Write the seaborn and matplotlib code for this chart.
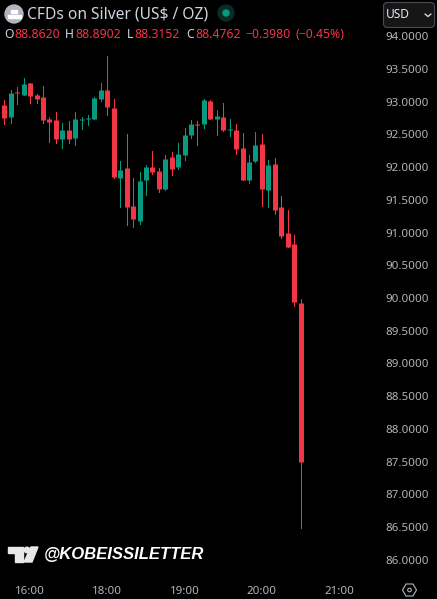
import pandas as pd
import matplotlib
matplotlib.use("Agg")
import matplotlib.pyplot as plt
from matplotlib.patches import Circle, FancyBboxPatch, Polygon, Rectangle
import seaborn as sns

# candles (5 min bars)
opens = [92.947, 92.763, 93.140, 93.099, 93.282, 93.099, 93.069, 92.733, 92.718, 92.427,
         92.565, 92.443, 92.718, 92.733, 92.733, 93.038, 93.176, 92.901, 91.832, 91.985,
         91.405, 91.176, 91.802, 92.000, 91.939, 91.664, 92.153, 92.000, 92.183, 92.489,
         92.656, 92.656, 93.008, 92.733, 92.763, 92.565, 92.565, 92.290, 91.802, 92.092,
         92.351, 91.649, 92.046, 91.389, 90.992, 90.824, 89.924]
closes = [92.748, 93.130, 93.125, 93.267, 93.084, 93.038, 92.718, 92.687, 92.427, 92.565,
          92.427, 92.733, 92.733, 92.748, 93.053, 93.176, 92.916, 91.847, 91.954, 91.389,
          91.206, 91.786, 92.000, 91.924, 91.664, 92.122, 91.969, 92.198, 92.489, 92.656,
          92.641, 93.023, 92.733, 92.779, 92.565, 92.580, 92.275, 91.802, 92.076, 92.336,
          91.664, 92.031, 91.344, 90.947, 90.779, 89.939, 87.496]
highs = [93.023, 93.176, 93.217, 93.354, 93.282, 93.115, 93.237, 92.763, 92.840, 92.672,
         92.702, 92.840, 92.763, 92.794, 93.069, 93.282, 93.695, 93.038, 92.092, 92.504,
         91.832, 91.924, 92.031, 92.244, 91.985, 92.183, 92.229, 92.366, 92.595, 92.718,
         92.702, 93.038, 93.023, 92.870, 92.977, 92.733, 92.656, 92.519, 92.183, 92.534,
         92.504, 92.107, 92.137, 91.557, 91.344, 90.962, 89.985]
lows = [92.656, 92.676, 92.962, 93.099, 92.977, 92.977, 92.672, 92.382, 92.366, 92.290,
        92.366, 92.336, 92.580, 92.641, 92.733, 93.008, 92.794, 91.832, 91.389, 91.115,
        91.084, 91.130, 91.573, 91.893, 91.618, 91.649, 91.878, 91.969, 92.107, 92.443,
        92.336, 92.595, 92.733, 92.489, 92.550, 92.473, 92.198, 91.802, 91.756, 92.076,
        91.405, 91.389, 91.282, 90.916, 90.779, 89.878, 86.489]

time_ticks = [4, 16, 28, 40, 52]
time_labels = ["16:00", "18:00", "19:00", "20:00", "21:00"]
price_ticks = [86.0, 86.5, 87.0, 87.5, 88.0, 88.5, 89.0, 89.5, 90.0, 90.5,
               91.0, 91.5, 92.0, 92.5, 93.0, 93.5, 94.0]

RED = "#f23645"
GREEN = "#089981"
TXT = "#d1d4dc"
AXTXT = "#b2b5be"

sns.set_theme(style="dark", rc={"figure.facecolor": "black", "axes.facecolor": "black",
                                "savefig.facecolor": "black"})
plt.rcParams["font.family"] = ["Noto Sans", "DejaVu Sans"]

df = pd.DataFrame({"candle": range(len(opens)), "open": opens, "close": closes,
                   "high": highs, "low": lows})
df["dir"] = ["up" if c >= o else "down" for o, c in zip(opens, closes)]

wicks = df.melt(id_vars=["candle", "dir"], value_vars=["high", "low"], value_name="price")
bodies = df.melt(id_vars=["candle", "dir"], value_vars=["open", "close"], value_name="price")

fig = plt.figure(figsize=(4.37, 5.99), dpi=100)
ax = fig.add_axes([0, 22 / 599, 1, 577 / 599])
pal = {"up": GREEN, "down": RED}

sns.lineplot(data=wicks, x="candle", y="price", units="candle", estimator=None, hue="dir",
             palette=pal, linewidth=0.6, legend=False, solid_capstyle="butt",
             antialiased=False, ax=ax)
sns.lineplot(data=bodies, x="candle", y="price", units="candle", estimator=None, hue="dir",
             palette=pal, linewidth=3.6, legend=False, solid_capstyle="butt", ax=ax)

ax.set_xlim(-0.668, 67.19)
ax.set_ylim(85.74, 94.55)
ax.set_xlabel("")
ax.set_ylabel("")
ax.grid(False)
sns.despine(ax=ax, left=True, bottom=True)
ax.set_xticks(time_ticks)
ax.set_xticklabels(time_labels)
ax.yaxis.tick_right()
ax.set_yticks(price_ticks)
ax.set_yticklabels(["%.4f" % p for p in price_ticks], ha="right")
ax.tick_params(axis="y", length=0, pad=-5.8, labelsize=8.3, labelcolor=AXTXT)
ax.tick_params(axis="x", length=0, pad=6.8, labelsize=8.3, labelcolor=AXTXT)

# header, watermark and buttons, in pixel coordinates
ov = fig.add_axes([0, 0, 1, 1])
ov.set_xlim(0, 437)
ov.set_ylim(599, 0)
ov.axis("off")
ov.patch.set_alpha(0)

ov.add_patch(Circle((14, 14), 9, color="#b2b5be"))
for bx, by in [(11, 9.5), (7.5, 14.5), (14.5, 14.5)]:
    ov.add_patch(Rectangle((bx, by), 6, 3.5, color="white"))
ov.text(27, 14.5, "CFDs on Silver (US$ / OZ)", color=TXT, fontsize=11.2, va="center")
ov.add_patch(Circle((226, 13), 8, color="#0b2b26"))
ov.add_patch(Circle((226, 13), 3, color=GREEN))

for tx, s, col in [(4, "O", TXT), (14, "88.8620", RED), (65, "H", TXT), (75, "88.8902", RED),
                   (127, "L", TXT), (134, "88.3152", RED), (186, "C", TXT), (195, "88.4762", RED),
                   (245, "\u22120.3980", RED), (295, "(\u22120.45%)", RED)]:
    ov.text(tx, 34.5, s, color=col, fontsize=8.8, va="center")

ov.add_patch(FancyBboxPatch((385, 4), 48, 22, boxstyle="round,pad=1.5,rounding_size=4",
                            fc="#161616", ec="#4a4d55", lw=0.8))
ov.text(386, 14.5, "USD", color="#e6e8ee", fontsize=8.6, va="center")
ov.plot([425, 428, 431], [14, 16.5, 14], color=TXT, lw=1)

# tradingview logo
ov.add_patch(Polygon([(8, 547), (23, 547), (23, 562), (15, 562), (15, 553), (8, 553)], color="#e8e8e8"))
ov.add_patch(Circle((27, 550), 2.8, color="#e8e8e8"))
ov.add_patch(Polygon([(31, 547), (38, 547), (32, 562), (24, 562)], color="#e8e8e8"))
ov.text(44, 555, "@KOBEISSILETTER", color="white", fontsize=12.0, fontweight="bold",
        fontstyle="italic", va="center", family=["Liberation Sans", "DejaVu Sans"])

# settings hexagon
ov.add_patch(Polygon([(402.5, 590), (406, 584), (413, 584), (416.5, 590), (413, 596), (406, 596)],
                     fill=False, ec=AXTXT, lw=0.8))
ov.add_patch(Circle((409.5, 590), 1.8, fill=False, ec=AXTXT, lw=0.8))

fig.savefig("out.png", dpi=100)
